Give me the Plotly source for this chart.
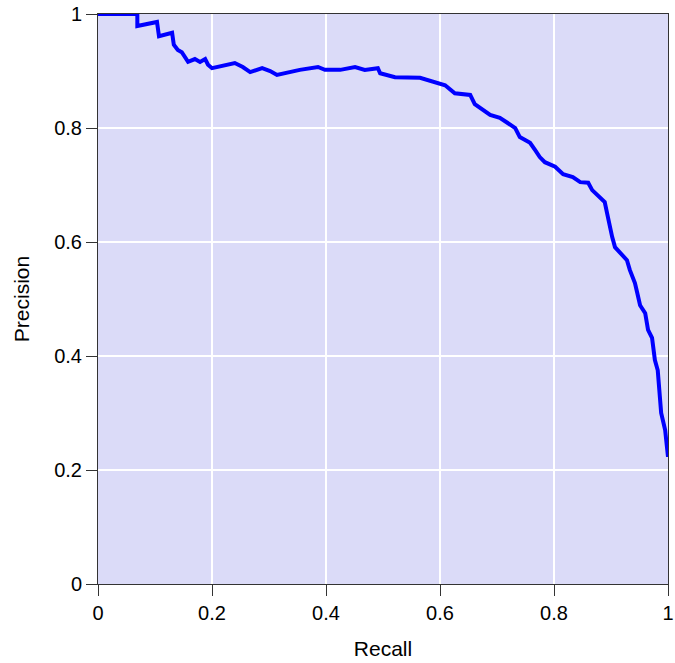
import plotly.graph_objects as go

recall = [0.0, 0.069, 0.069, 0.1035, 0.107, 0.130, 0.133, 0.140, 0.147, 0.153, 0.158,
          0.170, 0.179, 0.188, 0.193, 0.200, 0.240, 0.254, 0.267, 0.288, 0.302, 0.314,
          0.354, 0.386, 0.398, 0.425, 0.451, 0.468, 0.491, 0.495, 0.521, 0.565, 0.591,
          0.609, 0.626, 0.635, 0.653, 0.661, 0.679, 0.688, 0.705, 0.723, 0.732, 0.740,
          0.758, 0.767, 0.775, 0.784, 0.802, 0.816, 0.833, 0.846, 0.860, 0.867, 0.881,
          0.889, 0.893, 0.898, 0.902, 0.907, 0.916, 0.928, 0.933, 0.942, 0.946, 0.951,
          0.960, 0.965, 0.972, 0.977, 0.982, 0.986, 0.988, 0.995, 0.998, 1.0]
precision = [1.0, 1.0, 0.979, 0.986, 0.961, 0.967, 0.946, 0.937, 0.933, 0.925, 0.916,
             0.921, 0.916, 0.921, 0.911, 0.905, 0.914, 0.907, 0.898, 0.905, 0.900, 0.893,
             0.902, 0.907, 0.902, 0.902, 0.907, 0.902, 0.905, 0.896, 0.889, 0.888, 0.881,
             0.875, 0.861, 0.860, 0.858, 0.842, 0.828, 0.823, 0.818, 0.805, 0.800, 0.784,
             0.774, 0.761, 0.749, 0.740, 0.732, 0.719, 0.714, 0.705, 0.704, 0.691, 0.679,
             0.670, 0.651, 0.626, 0.609, 0.591, 0.582, 0.568, 0.551, 0.528, 0.511, 0.489,
             0.475, 0.446, 0.432, 0.393, 0.375, 0.335, 0.300, 0.270, 0.235, 0.223]

tick_vals = [0, 0.2, 0.4, 0.6, 0.8, 1]
tick_text = ["0", "0.2", "0.4", "0.6", "0.8", "1"]

fig = go.Figure()
fig.add_trace(go.Scatter(x=recall, y=precision, mode="lines",
                         line=dict(color="#0000FF", width=4),
                         cliponaxis=False, showlegend=False))

axis_common = dict(range=[0, 1], tickvals=tick_vals, ticktext=tick_text,
                   showgrid=True, gridcolor="white", gridwidth=2,
                   showline=True, linecolor="#333333", linewidth=1, mirror=True,
                   ticks="outside", ticklen=11, tickcolor="#333333",
                   zeroline=False, automargin=False,
                   tickfont=dict(size=20, color="black"))

fig.update_xaxes(title=dict(text="Recall", font=dict(size=21, color="black"), standoff=18),
                 ticklabeloverflow="allow", **axis_common)
fig.update_yaxes(title=dict(text="Precision", font=dict(size=21, color="black"), standoff=18),
                 ticklabeloverflow="allow", **axis_common)

fig.update_layout(width=675, height=663,
                  margin=dict(l=98, r=7, t=14, b=79),
                  plot_bgcolor="#DBDBF8", paper_bgcolor="white",
                  font=dict(family="Liberation Sans, Arial, sans-serif"))

fig.write_html("out.html", config={"displayModeBar": False},
               post_script="document.body.style.margin='0';"
                           "document.body.style.overflow='hidden';")
